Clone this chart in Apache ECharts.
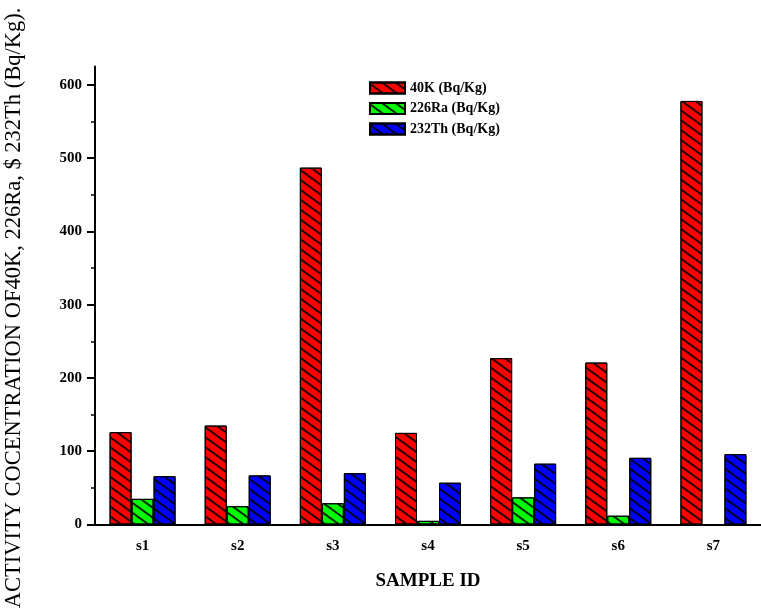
<!DOCTYPE html>
<html>
<head>
<meta charset="utf-8">
<script src="https://cdn.jsdelivr.net/npm/echarts@6/dist/echarts.min.js"></script>
<style>html,body{margin:0;padding:0;background:#fff;}#chart{width:761px;height:612px;}</style>
</head>
<body>
<div id="chart"></div>
<script>
const categories = ['s1', 's2', 's3', 's4', 's5', 's6', 's7'];
const k40 = [126, 135, 487, 125, 227, 221, 578];
const ra226 = [35, 25, 29, 5, 37, 12, 0];
const th232 = [66, 67, 70, 57, 83, 91, 96];
const yMajorTicks = [0, 100, 200, 300, 400, 500, 600];
const yMinorTicks = [50, 150, 250, 350, 450, 550];
const seriesNames = ['40K (Bq/Kg)', '226Ra (Bq/Kg)', '232Th (Bq/Kg)'];

const FONT = '"Liberation Serif", "Times New Roman", serif';
const hatch = {
  symbol: 'rect', symbolSize: 1,
  dashArrayX: [1, 0], dashArrayY: [1.6, 5.4],
  rotation: Math.PI / 5,
  color: 'rgba(0,0,0,0.85)'
};
function barSeries(name, data, color) {
  return {
    name: name, type: 'bar', data: data,
    xAxisIndex: 0, yAxisIndex: 0,
    barWidth: 22, barGap: '0%',
    itemStyle: { color: color, borderColor: '#000', borderWidth: 1, decal: hatch },
    emphasis: { disabled: true }
  };
}
const chart = echarts.init(document.getElementById('chart'), null, { renderer: 'canvas' });
chart.setOption({
  animation: false,
  backgroundColor: '#fff',
  aria: { enabled: false },
  grid: { left: 95, right: -2.5, top: 66.5, bottom: 87.5, containLabel: false },
  legend: {
    orient: 'vertical', left: 364, top: 76,
    itemWidth: 35, itemHeight: 11, itemGap: 6.5,
    icon: 'rect',
    data: seriesNames,
    textStyle: { fontFamily: FONT, fontWeight: 'bold', fontSize: 14, color: '#000' }
  },
  xAxis: [{
    type: 'category', data: categories, position: 'bottom',
    name: 'SAMPLE ID', nameLocation: 'middle', nameGap: 47,
    nameTextStyle: { fontFamily: FONT, fontWeight: 'bold', fontSize: 19, color: '#000' },
    axisLine: { lineStyle: { color: '#000', width: 2 } },
    axisTick: { alignWithLabel: true, length: 8, lineStyle: { color: '#000', width: 2 } },
    axisLabel: { margin: 14, fontFamily: FONT, fontWeight: 'bold', fontSize: 15, color: '#000' },
    splitLine: { show: false }
  }, {
    type: 'category', data: categories, position: 'bottom',
    axisLine: { show: false },
    axisTick: { alignWithLabel: false, length: 5, lineStyle: { color: '#000', width: 2 } },
    axisLabel: { show: false },
    splitLine: { show: false }
  }],
  yAxis: [{
    type: 'value', min: 0, max: 625, position: 'left',
    axisLine: { show: true, lineStyle: { color: '#000', width: 2 } },
    axisTick: { show: true, length: 8, customValues: yMajorTicks, lineStyle: { color: '#000', width: 2 } },
    axisLabel: { margin: 13, customValues: yMajorTicks, fontFamily: FONT, fontWeight: 'bold', fontSize: 15, color: '#000' },
    splitLine: { show: false }
  }, {
    type: 'value', min: 0, max: 625, position: 'left',
    axisLine: { show: false },
    axisTick: { show: true, length: 4, customValues: yMinorTicks, lineStyle: { color: '#000', width: 1.5 } },
    axisLabel: { show: false },
    splitLine: { show: false }
  }],
  graphic: [{
    type: 'text', x: 14, y: 308, rotation: Math.PI / 2,
    style: {
      text: 'ACTIVITY COCENTRATION OF40K, 226Ra, $ 232Th (Bq/Kg).',
      font: '22.5px "Liberation Serif", "Times New Roman", serif',
      fill: '#000', align: 'center', verticalAlign: 'middle'
    }
  }],
  series: [
    barSeries(seriesNames[0], k40, '#ff0000'),
    barSeries(seriesNames[1], ra226, '#00ff00'),
    barSeries(seriesNames[2], th232, '#0000ff')
  ]
});
</script>
</body>
</html>
